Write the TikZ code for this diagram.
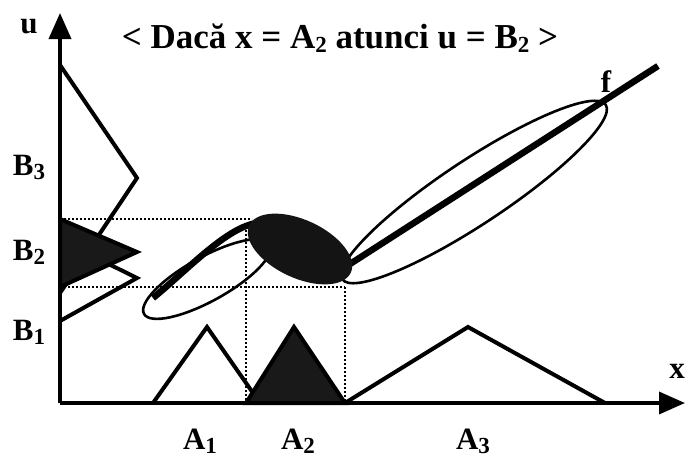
\documentclass[tikz,border=0pt]{standalone}
\usepackage{fontspec}
\setmainfont{Liberation Serif}
\usetikzlibrary{arrows.meta}
\newcommand\subd[1]{\raisebox{-0.3ex}{\fontsize{23}{23}\selectfont #1}}
\begin{document}
\begin{tikzpicture}[x=1pt,y=-1pt,
  lbl/.style={font=\fontsize{31}{31}\selectfont\bfseries, inner sep=0pt, anchor=base},
  ttl/.style={font=\fontsize{35}{35}\selectfont\bfseries, inner sep=0pt, anchor=base},
  axis/.style={line width=3.6pt, -{Triangle[length=26pt,width=22pt]}},
  tri/.style={line width=4pt, line join=miter},
  shaded/.style={fill=black!90},
  ell/.style={line width=2.6pt},
  guide/.style={line width=2pt, dotted}]
\useasboundingbox (0,0) rectangle (685,461);

% axis coordinates
\coordinate (O) at (60,403);
\coordinate (utop) at (60,13);
\coordinate (xend) at (685,403);

% output fuzzy sets (on u axis)
\coordinate (b3a) at (60,65);  \coordinate (b3p) at (137,178); \coordinate (b3b) at (60,293);
\coordinate (b1a) at (60,240); \coordinate (b1p) at (137,278); \coordinate (b1b) at (60,321);
\coordinate (b2a) at (60,219); \coordinate (b2p) at (137,252); \coordinate (b2b) at (60,287);
\draw[tri] (b3a) -- (b3p) -- (b3b);
\draw[tri] (b1a) -- (b1p) -- (b1b);
\draw[tri, shaded] (b2a) -- (b2p) -- (b2b) -- cycle;

% input fuzzy sets (on x axis)
\coordinate (a1a) at (153,403); \coordinate (a1p) at (207,327); \coordinate (a1b) at (260,403);
\coordinate (a2a) at (246,403); \coordinate (a2p) at (294,327); \coordinate (a2b) at (345,403);
\coordinate (a3a) at (345,403); \coordinate (a3p) at (468,327); \coordinate (a3b) at (605,403);
\draw[tri] (a1a) -- (a1p) -- (a1b);
\draw[tri] (a3a) -- (a3p) -- (a3b);
\draw[tri, shaded] (a2a) -- (a2p) -- (a2b) -- cycle;

% dotted guides
\coordinate (g1) at (252,219);
\coordinate (g2) at (345,287);
\coordinate (g3) at (246,230);
\draw[guide] (b2a) -- (g1);
\draw[guide] (b2b) -- (g2);
\draw[guide] (g3) -- (a2a);
\draw[guide] (g2) -- (a2b);

% fuzzy relation ellipses
\coordinate (e1) at (207,279);
\coordinate (e2) at (300,249);
\coordinate (e3) at (474,192);
\draw[ell] (e1) ellipse [x radius=72, y radius=22, rotate=29];
\draw[ell] (e3) ellipse [x radius=158, y radius=32, rotate=33.5];

% function f
\coordinate (f0) at (153,298);
\coordinate (fin) at (252,224);
\coordinate (fmn) at (350,264);
\coordinate (f1) at (658,66);
\draw[line width=6.5pt, line cap=butt] (f0) .. controls (185,272) and (222,232) .. (fin)
  .. controls (290,212) and (330,262) .. (fmn) -- (f1);
\fill[black!92] (e2) ellipse [x radius=56, y radius=29, rotate=-25];

% axes
\draw[axis] (O) -- (utop);
\draw[axis] (O) -- (xend);

% labels
\node[ttl] (title) at (340,48) {< Dacă x = A\subd{2} atunci u = B\subd{2} >};
\node[lbl] (ul) at (29,33) {u};
\node[lbl] (xl) at (677,378) {x};
\node[lbl] (fl) at (606,92) {f};
\node[lbl] (B3) at (29,175) {B\subd{3}};
\node[lbl] (B2) at (29,260) {B\subd{2}};
\node[lbl] (B1) at (29,340) {B\subd{1}};
\node[lbl] (A1) at (200,449) {A\subd{1}};
\node[lbl] (A2) at (298,449) {A\subd{2}};
\node[lbl] (A3) at (473,449) {A\subd{3}};
\end{tikzpicture}
\end{document}
